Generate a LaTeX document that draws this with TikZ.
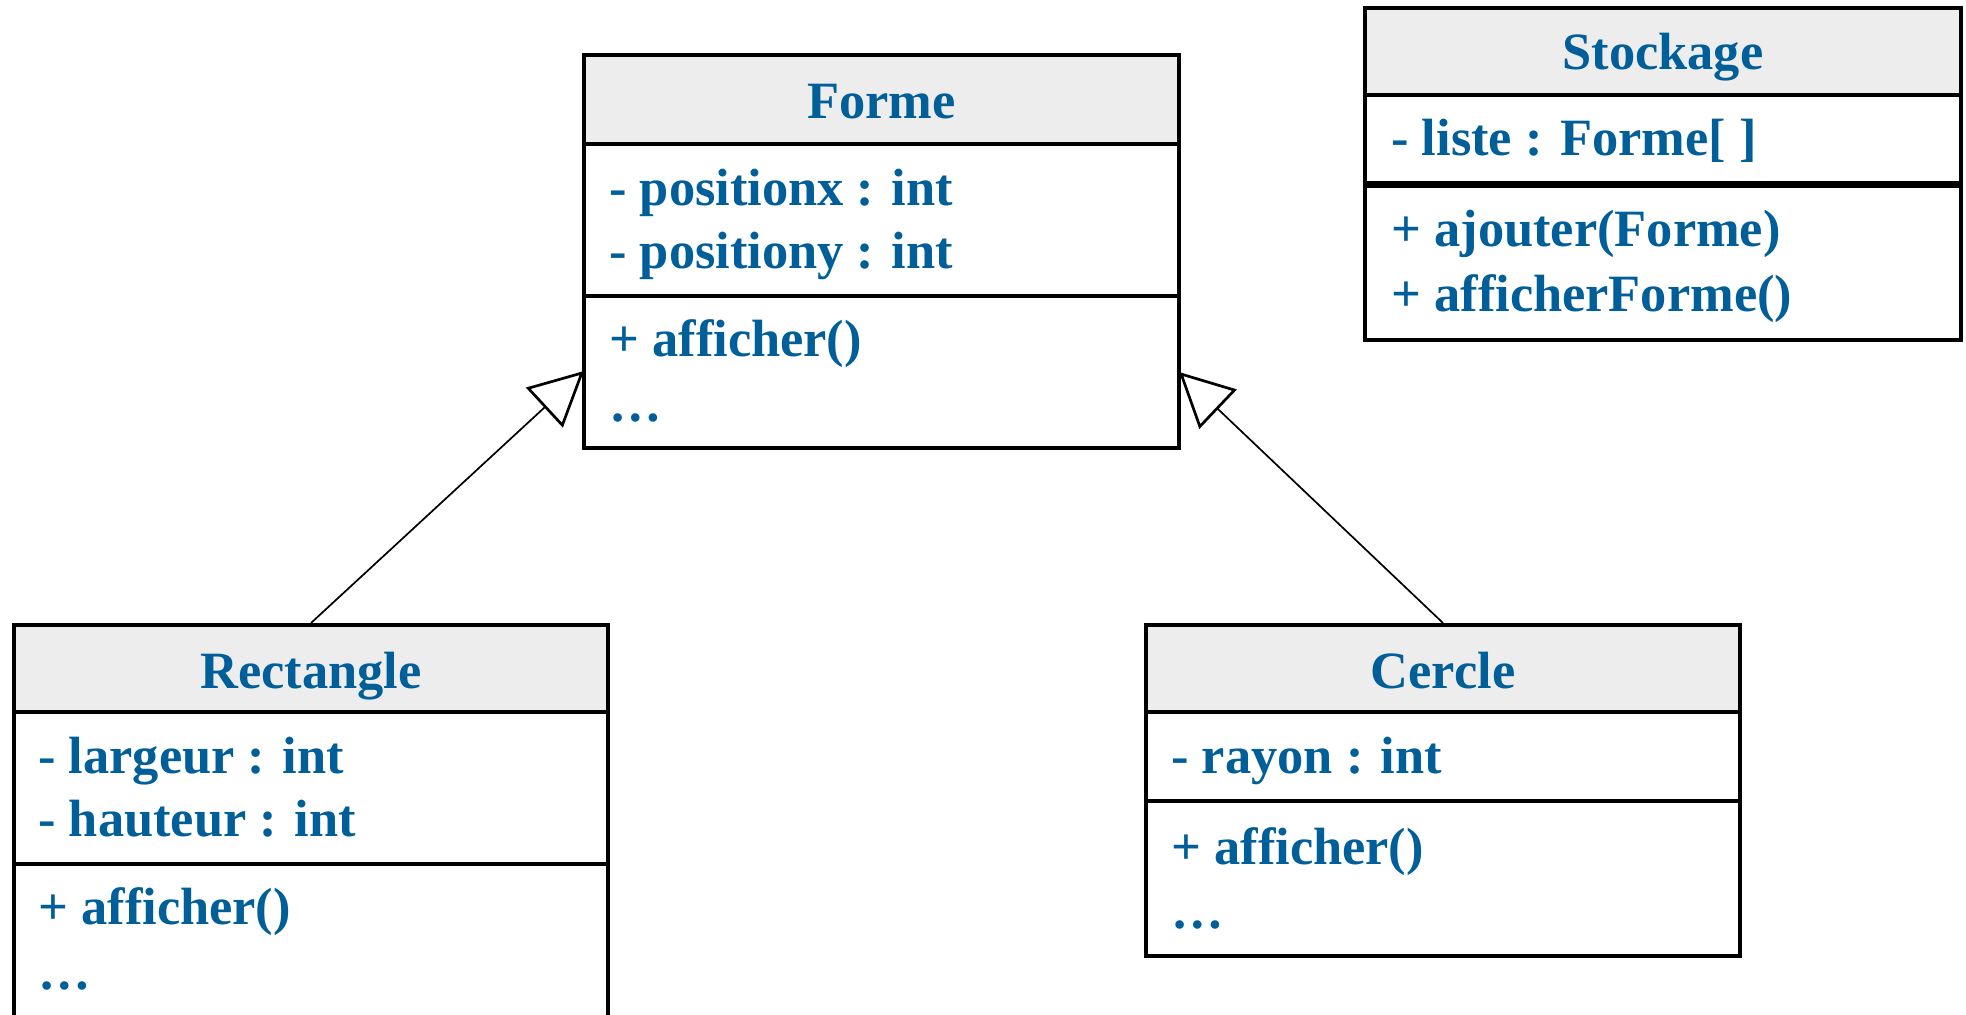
\documentclass[tikz,border=0pt]{standalone}
\usepackage{fontspec}
\setmainfont{Liberation Serif}
\usetikzlibrary{arrows.meta}
\definecolor{umlblue}{RGB}{0,94,152}
\definecolor{hdrgray}{RGB}{237,237,237}
\tikzset{
  cbox/.style={draw=black, line width=2pt, rectangle, inner sep=0pt},
  hdr/.style={cbox, fill=hdrgray},
  ctitle/.style={text=umlblue, inner sep=0pt, anchor=base, font=\fontsize{26.2pt}{32pt}\selectfont\bfseries},
  ctext/.style={text=umlblue, inner sep=0pt, anchor=base west, font=\fontsize{26.2pt}{32pt}\selectfont\bfseries},
  inherit/.style={draw=black, line width=0.85pt, -{Triangle[open, length=27pt, width=27pt, line width=1.35pt]}}
}
\begin{document}
\begin{tikzpicture}[x=0.5pt,y=-0.5pt]
\path[use as bounding box, clip] (0,0) rectangle (1966,1014);
\fill[white] (0,0) rectangle (1966,1014);

% Forme
\node[hdr, minimum width=297.5pt, minimum height=44.5pt] (formeH) at (881.5,99.5) {};
\node[cbox, minimum width=297.5pt, minimum height=76pt] (formeA) at (881.5,220) {};
\node[cbox, minimum width=297.5pt, minimum height=76pt] (formeM) at (881.5,372) {};
\node[ctitle] (formeT) at (881.5,118) {Forme};
\node[ctext] (formeA1) at (609,205) {- positionx : int};
\node[ctext] (formeA2) at (609,268) {- positiony : int};
\node[ctext] (formeM1) at (609,356) {+ afficher()};
\node[ctext] (formeM2) at (609,421) {…};
\coordinate (formeL) at (584,371);
\coordinate (formeR) at (1179,372);

% Stockage
\node[hdr, minimum width=298pt, minimum height=43.5pt] (stockH) at (1663,51.5) {};
\node[cbox, minimum width=298pt, minimum height=45.5pt] (stockA) at (1663,140.5) {};
\node[cbox, minimum width=298pt, minimum height=77pt] (stockM) at (1663,263) {};
\draw[line width=3pt] (stockM.north west) -- (stockM.north east);
\node[ctitle] (stockT) at (1663,69) {Stockage};
\node[ctext] (stockA1) at (1391,155) {- liste : Forme[ ]};
\node[ctext] (stockM1) at (1391,246) {+ ajouter(Forme)};
\node[ctext] (stockM2) at (1391,311) {+ afficherForme()};

% Rectangle
\node[hdr, minimum width=297pt, minimum height=43.5pt] (rectH) at (311,668.5) {};
\node[cbox, minimum width=297pt, minimum height=76pt] (rectA) at (311,788) {};
\node[cbox, minimum width=297pt, minimum height=83pt] (rectM) at (311,947) {};
\node[ctitle] (rectT) at (311,688) {Rectangle};
\node[ctext] (rectA1) at (38,773) {- largeur : int};
\node[ctext] (rectA2) at (38,836) {- hauteur : int};
\node[ctext] (rectM1) at (38,924) {+ afficher()};
\node[ctext] (rectM2) at (38,989) {…};

% Cercle
\node[hdr, minimum width=297pt, minimum height=43.5pt] (cercH) at (1443,668.5) {};
\node[cbox, minimum width=297pt, minimum height=44.5pt] (cercA) at (1443,756.5) {};
\node[cbox, minimum width=297pt, minimum height=77.5pt] (cercM) at (1443,878.5) {};
\node[ctitle] (cercT) at (1443,688) {Cercle};
\node[ctext] (cercA1) at (1171,773) {- rayon : int};
\node[ctext] (cercM1) at (1171,864) {+ afficher()};
\node[ctext] (cercM2) at (1171,928) {…};

% Inheritance
\draw[inherit] (rectH.north) -- (formeL);
\draw[inherit] (cercH.north) -- (formeR);
\end{tikzpicture}
\end{document}
